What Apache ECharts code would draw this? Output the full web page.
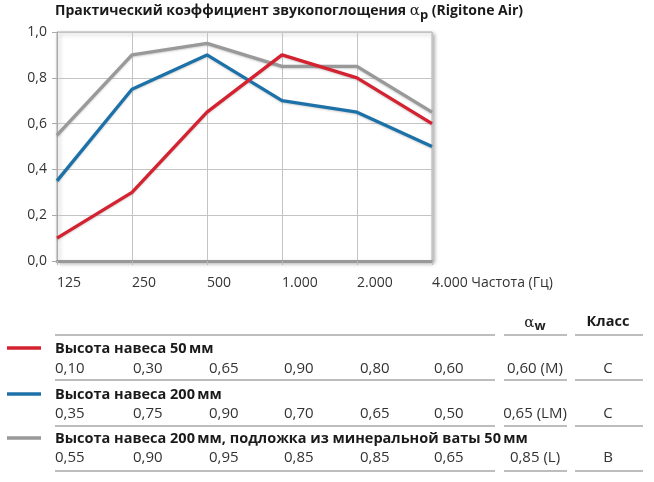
<!DOCTYPE html>
<html><head><meta charset="utf-8">
<script src="https://cdn.jsdelivr.net/npm/echarts@6/dist/echarts.min.js"></script>
<style>html,body{margin:0;padding:0;background:#fff}#c{width:654px;height:482px}</style>
</head><body><div id="c"></div>
<script>
const categories = ['125','250','500','1.000','2.000','4.000'];
const axisUnit = 'Частота (Гц)';
const yTicks = [0, 0.2, 0.4, 0.6, 0.8, 1.0];
const seriesNames = ['Высота навеса 50\u2009мм', 'Высота навеса 200\u2009мм', 'Высота навеса 200\u2009мм, подложка из минеральной ваты 50\u2009мм'];
const red50 = [0.10, 0.30, 0.65, 0.90, 0.80, 0.60];
const blue200 = [0.35, 0.75, 0.90, 0.70, 0.65, 0.50];
const grayMin = [0.55, 0.90, 0.95, 0.85, 0.85, 0.65];
const alphaW = ['0,60 (M)', '0,65 (LM)', '0,85 (L)'];
const klass = ['C', 'C', 'B'];
const colors = ['#d42231', '#1c72a8', '#999999'];
const allSeries = [red50, blue200, grayMin];

const FONT = 'Open Sans';
const fmt = v => v.toFixed(2).replace('.', ',');

const chart = echarts.init(document.getElementById('c'), null, {renderer: 'canvas'});

const graphics = [];
graphics.push({type: 'text', left: 55, top: 4, style: {
  rich: {
    b: {fontFamily: FONT, fontWeight: 'bold', fontSize: 14, fill: '#1a1a1a'},
    a: {fontFamily: 'DejaVu Serif', fontSize: 15, fill: '#1a1a1a'},
    s: {fontFamily: FONT, fontWeight: 'bold', fontSize: 13, fill: '#1a1a1a', padding: [7,0,0,0]}
  },
  text: '{b|Практический коэффициент звукопоглощения }{a|α}{s|p}{b| (Rigitone Air)}'
}});
graphics.push({type: 'text', x: 535, y: 323, style: {
  rich: {a: {fontFamily: 'DejaVu Serif', fontSize: 15, fill: '#222'}, s: {fontFamily: FONT, fontWeight: 'bold', fontSize: 13, fill: '#222', padding: [7,0,0,0]}},
  text: '{a|α}{s|w}', align: 'center', verticalAlign: 'middle'}});
graphics.push({type: 'text', x: 608, y: 322, style: {text: 'Класс', fontFamily: FONT, fontWeight: 'bold', fontSize: 14.5, fill: '#1a1a1a', align: 'center', verticalAlign: 'middle'}});

const sepY = [335, 380, 426, 471];
const segs = [[55, 495], [504, 567], [575, 643]];
sepY.forEach(y => segs.forEach(s => graphics.push({type: 'line', shape: {x1: s[0], y1: y, x2: s[1], y2: y}, style: {stroke: '#bdbdbd', lineWidth: 2.2}})));

const nameY = [349, 395, 439];
const valY = [369, 414, 458];
const colX = [55, 133, 209, 284, 360, 434];
seriesNames.forEach((nm, i) => {
  graphics.push({type: 'line', shape: {x1: 7, y1: nameY[i] - 1, x2: 41, y2: nameY[i] - 1}, style: {stroke: colors[i], lineWidth: 3.5}});
  graphics.push({type: 'text', x: 55, y: nameY[i], style: {text: nm, fontFamily: FONT, fontWeight: 'bold', fontSize: 14.5, fill: '#1a1a1a', verticalAlign: 'middle'}});
  allSeries[i].forEach((v, j) => graphics.push({type: 'text', x: colX[j], y: valY[i], style: {text: fmt(v), fontFamily: FONT, fontSize: 15, fill: '#333', verticalAlign: 'middle'}}));
  graphics.push({type: 'text', x: 535, y: valY[i], style: {text: alphaW[i], fontFamily: FONT, fontSize: 15, fill: '#333', align: 'center', verticalAlign: 'middle'}});
  graphics.push({type: 'text', x: 608, y: valY[i], style: {text: klass[i], fontFamily: FONT, fontSize: 15, fill: '#333', align: 'center', verticalAlign: 'middle'}});
});

const order = [2, 1, 0];
chart.setOption({
  animation: false,
  grid: {left: 57, right: 222, top: 32, bottom: 221, show: true, backgroundColor: '#fff', borderColor: '#b0b0b0', borderWidth: 1,
    shadowColor: 'rgba(0,0,0,0.35)', shadowBlur: 4, shadowOffsetX: 2, shadowOffsetY: 2},
  xAxis: {type: 'category', data: categories, boundaryGap: false,
    axisLine: {lineStyle: {color: '#999', width: 3}},
    axisTick: {show: true, interval: 0, length: 4, lineStyle: {color: '#bbb'}},
    splitLine: {show: true, interval: 0, lineStyle: {color: '#c4c4c4', width: 1}},
    axisLabel: {interval: 0, hideOverlap: false, align: 'left', margin: 15, fontFamily: FONT, fontSize: 14, color: '#333',
      formatter: (v, i) => i === categories.length - 1 ? v + ' ' + axisUnit : v}},
  yAxis: {type: 'value', min: 0, max: 1, interval: 0.2,
    axisLine: {show: true, lineStyle: {color: '#aaa', width: 1}},
    axisTick: {show: true, length: 5, lineStyle: {color: '#aaa'}},
    splitLine: {lineStyle: {color: '#c4c4c4'}},
    axisLabel: {margin: 10, fontFamily: FONT, fontSize: 14, color: '#333', formatter: v => v.toFixed(1).replace('.', ',')}},
  series: order.map(i => ({type: 'line', name: seriesNames[i], data: allSeries[i], showSymbol: false, symbol: 'none',
    lineStyle: {color: colors[i], width: 3.3, shadowColor: 'rgba(120,120,120,0.35)', shadowBlur: 2, shadowOffsetY: 1}})),
  graphic: graphics
});
</script></body></html>
